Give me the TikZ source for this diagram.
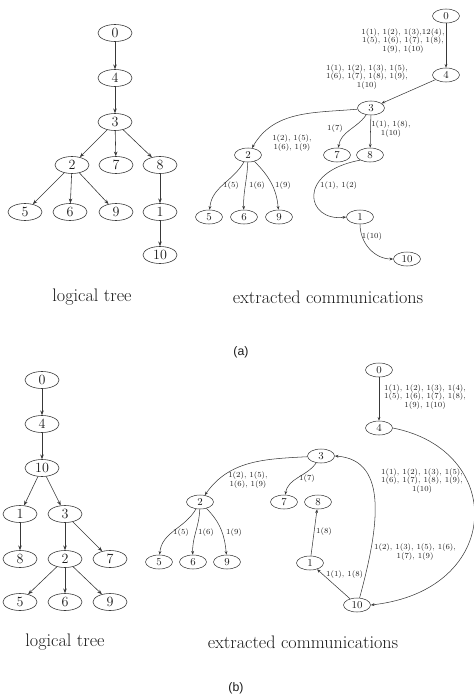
\documentclass[tikz,border=0pt]{standalone}
\usepackage{fontspec}
\newfontfamily\trsans{Liberation Sans}
\usepackage{xcolor}
\definecolor{trink}{HTML}{1A1A1A}
\definecolor{trline}{HTML}{383838}
\usepackage{tikz}
\usetikzlibrary{arrows.meta,shapes.geometric}
\tikzset{
  trnode/.style ={ellipse, draw=trline, line width=0.5pt, minimum width=10.2mm,
                  minimum height=5.1mm, inner sep=0pt,
                  font=\fontsize{12}{12}\selectfont, text=trink},
  trsmall/.style={ellipse, draw=trline, line width=0.45pt, minimum width=8.1mm,
                  minimum height=4.2mm, inner sep=0pt,
                  font=\fontsize{9}{9}\selectfont, text=trink},
  trarrow/.style={-{Stealth[length=4pt,width=3pt]}, line width=0.5pt, draw=trline},
  trcomm/.style ={-{Stealth[length=3.2pt,width=2.4pt]}, line width=0.45pt, draw=trline},
  trlbl/.style  ={font=\fontsize{6.6}{6.5}\selectfont, align=center, inner sep=0pt, text=trink},
  trcap/.style  ={font=\fontsize{15.5}{18}\selectfont, text=trink},
  trtag/.style  ={font=\trsans\fontsize{10.5}{12}\selectfont, text=trink},
}

\begin{document}
\begin{tikzpicture}[x=0.3mm, y=0.3mm]
  \useasboundingbox (0,0) rectangle (474,-699);
  % (a) logical tree
  \foreach \n/\x/\y in {0/115/33, 4/115/78, 3/115/122, 2/72/165, 7/116/165, 8/160/165,
                        5/25/212, 6/70/212, 9/116/212, 1/160/212, 10/160/255}
    {\node[trnode] (a\n) at (\x,-\y) {\n};}
  \foreach \s/\t in {0/4, 4/3, 3/2, 3/7, 3/8, 2/5, 2/6, 2/9, 8/1, 1/10}
    {\draw[trarrow] (a\s) -- (a\t);}
  % (a) extracted communications
  \foreach \n/\x/\y in {0/446/16, 4/446/75, 3/371/108, 2/248/155, 7/337/155, 8/370/155,
                        5/209/217, 6/244/217, 9/279/217, 1/360/217, 10/407/259}
    {\node[trsmall] (c\n) at (\x,-\y) {\n};}
  \draw[trcomm] (c0) -- (c4);
  \draw[trcomm] (c4) -- (c3);
  \draw[trcomm] (c3) to[out=185, in=60] (c2);
  \draw[trcomm] (c3) to[out=235, in=80] (c7);
  \draw[trcomm] (c3) -- (c8);
  \draw[trcomm] (c2) to[out=240, in=85] (c5);
  \draw[trcomm] (c2) to[out=268, in=92] (c6);
  \draw[trcomm] (c2) to[out=-45, in=95] (c9);
  \draw[trcomm] (c8.south west) .. controls (296,-172) and (306,-222) .. (c1.west);
  \draw[trcomm] (c1.south) to[out=-90, in=180] (c10.west);
  \node[trlbl] (l04) at (403,-41) {1(1), 1(2), 1(3),12(4),\\1(5), 1(6), 1(7), 1(8),\\1(9), 1(10)};
  \node[trlbl] (l43) at (367,-77) {1(1), 1(2), 1(3), 1(5),\\1(6), 1(7), 1(8), 1(9),\\1(10)};
  \node[trlbl] (l32) at (292,-143) {1(2), 1(5),\\1(6), 1(9)};
  \node[trlbl] (l37) at (335,-129) {1(7)};
  \node[trlbl] (l38) at (391,-129) {1(1), 1(8),\\1(10)};
  \node[trlbl] (l25) at (231,-186) {1(5)};
  \node[trlbl] (l26) at (257,-186) {1(6)};
  \node[trlbl] (l29) at (283,-186) {1(9)};
  \node[trlbl, anchor=west] (l81) at (320,-186) {1(1), 1(2)};
  \node[trlbl] (l110) at (372,-237) {1(10)};
  \node[trcap] (capa1) at (92,-297) {logical tree};
  \node[trcap] (capa2) at (328,-297) {extracted communications};
  \node[trtag] (taga) at (241,-352) {(a)};

  % (b) logical tree
  \foreach \n/\x/\y in {0/42/380, 4/42/424, 10/42/468, 1/20/514, 3/65/514, 8/20/559,
                        2/65/559, 7/110/559, 5/20/602, 6/65/602, 9/110/602}
    {\node[trnode] (b\n) at (\x,-\y) {\n};}
  \foreach \s/\t in {0/4, 4/10, 10/1, 10/3, 1/8, 3/2, 3/7, 2/5, 2/6, 2/9}
    {\draw[trarrow] (b\s) -- (b\t);}
  % (b) extracted communications
  \foreach \n/\x/\y in {0/379/370, 4/379/428, 3/321/456, 2/200/502, 7/284/502, 8/318/502,
                        5/159/562, 6/193/562, 9/227/562, 1/310/563, 10/357/605}
    {\node[trsmall] (d\n) at (\x,-\y) {\n};}
  \draw[trcomm] (d0) -- (d4);
  \draw[trcomm] (d4.east) .. controls (506,-450) and (504,-590) .. (d10.east);
  \draw[trcomm] (d10.70) .. controls (378,-530) and (390,-460) .. (d3.east);
  \draw[trcomm] (d10) -- (d1);
  \draw[trcomm] (d1) -- (d8);
  \draw[trcomm] (d3) to[out=183, in=55] (d2);
  \draw[trcomm] (d3) to[out=235, in=80] (d7);
  \draw[trcomm] (d2) to[out=240, in=85] (d5);
  \draw[trcomm] (d2) to[out=268, in=92] (d6);
  \draw[trcomm] (d2) to[out=-45, in=95] (d9);
  \node[trlbl, anchor=west] (m04) at (384,-397) {1(1), 1(2), 1(3), 1(4),\\1(5), 1(6), 1(7), 1(8),\\1(9), 1(10)};
  \node[trlbl, anchor=west] (m410) at (381,-481) {1(1), 1(2), 1(3), 1(5),\\1(6), 1(7), 1(8), 1(9),\\1(10)};
  \node[trlbl, anchor=west] (m103) at (374,-552) {1(2), 1(3), 1(5), 1(6),\\1(7), 1(9)};
  \node[trlbl] (m32) at (248,-480) {1(2), 1(5),\\1(6), 1(9)};
  \node[trlbl] (m37) at (307,-479) {1(7)};
  \node[trlbl] (m25) at (181,-533) {1(5)};
  \node[trlbl] (m26) at (206,-533) {1(6)};
  \node[trlbl] (m29) at (234,-533) {1(9)};
  \node[trlbl] (m18) at (324,-532) {1(8)};
  \node[trlbl, anchor=west] (m101) at (326,-575) {1(1), 1(8)};
  \node[trcap] (capb1) at (65,-642) {logical tree};
  \node[trcap] (capb2) at (303,-642) {extracted communications};
  \node[trtag] (tagb) at (236,-688) {(b)};
\end{tikzpicture}
\end{document}
